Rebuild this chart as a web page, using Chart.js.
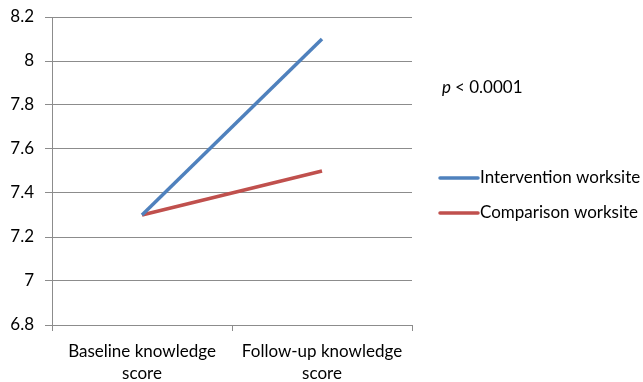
<!DOCTYPE html>
<html>
<head>
<meta charset="utf-8">
<script src="https://cdn.jsdelivr.net/npm/chart.js@4/dist/chart.umd.min.js"></script>
<style>
  html, body { margin: 0; padding: 0; background: #fff; }
  #wrap { width: 643px; height: 382px; }
</style>
</head>
<body>
<div id="wrap"><canvas id="c" width="643" height="382"></canvas></div>
<script>
const categories = [["Baseline knowledge", "score"], ["Follow-up knowledge", "score"]];
const seriesNames = ["Intervention worksite", "Comparison worksite"];
const interventionScores = [7.3, 8.1];
const comparisonScores = [7.3, 7.5];
const seriesColors = ["#4F81BD", "#C0504D"];
const yMin = 6.8, yMax = 8.2, yStep = 0.2;
const pValueLabel = "< 0.0001";

const FONT = "Lato, 'Open Sans', sans-serif";
const FONT_SIZE = 17;

// Right-hand annotation: the p-value and a legend with long line swatches
const sideNotes = {
  id: 'sideNotes',
  afterDraw(chart) {
    const ctx = chart.ctx;
    ctx.save();
    ctx.textBaseline = 'middle';
    ctx.fillStyle = '#000';
    ctx.font = 'italic ' + FONT_SIZE + 'px ' + FONT;
    ctx.fillText('p', 442, 88);
    const pw = ctx.measureText('p ').width;
    ctx.font = FONT_SIZE + 'px ' + FONT;
    ctx.fillText(pValueLabel, 442 + pw, 88);

    const rows = [178, 213];
    chart.data.datasets.forEach((ds, i) => {
      const y = rows[i];
      ctx.strokeStyle = ds.borderColor;
      ctx.lineWidth = 3.5;
      ctx.lineCap = 'round';
      ctx.beginPath();
      ctx.moveTo(440, y);
      ctx.lineTo(478, y);
      ctx.stroke();
      ctx.fillStyle = '#000';
      ctx.font = FONT_SIZE + 'px ' + FONT;
      ctx.fillText(ds.label, 480, y);
    });
    ctx.restore();
  }
};

new Chart(document.getElementById('c'), {
  type: 'line',
  data: {
    labels: categories,
    datasets: [
      { label: seriesNames[0], data: interventionScores, borderColor: seriesColors[0], backgroundColor: seriesColors[0], borderWidth: 3.5, pointRadius: 0, tension: 0 },
      { label: seriesNames[1], data: comparisonScores, borderColor: seriesColors[1], backgroundColor: seriesColors[1], borderWidth: 3.5, pointRadius: 0, tension: 0 }
    ]
  },
  options: {
    responsive: false,
    animation: false,
    layout: { padding: { top: 17, right: 231, left: 0, bottom: 0 } },
    plugins: {
      legend: { display: false },
      tooltip: { enabled: false }
    },
    scales: {
      x: {
        offset: true,
        grid: { offset: true, drawOnChartArea: false, drawTicks: true, tickLength: 6, color: '#8c8c8c', lineWidth: 1 },
        border: { display: false },
        ticks: { color: '#000', font: { family: FONT, size: FONT_SIZE, lineHeight: 1.3 }, padding: 9, maxRotation: 0 },
        afterFit(s) { s.height = 57; }
      },
      y: {
        min: yMin, max: yMax,
        grid: { color: '#8c8c8c', lineWidth: 1, tickLength: 7 },
        border: { display: true, color: '#8c8c8c', width: 1 },
        ticks: {
          stepSize: yStep, color: '#000', font: { family: FONT, size: FONT_SIZE }, padding: 11,
          callback: v => parseFloat(v.toFixed(1)).toString()
        },
        afterFit(s) { s.width = 52; s.paddingTop = 0; s.paddingBottom = 0; }
      }
    }
  },
  plugins: [sideNotes]
});
</script>
</body>
</html>
